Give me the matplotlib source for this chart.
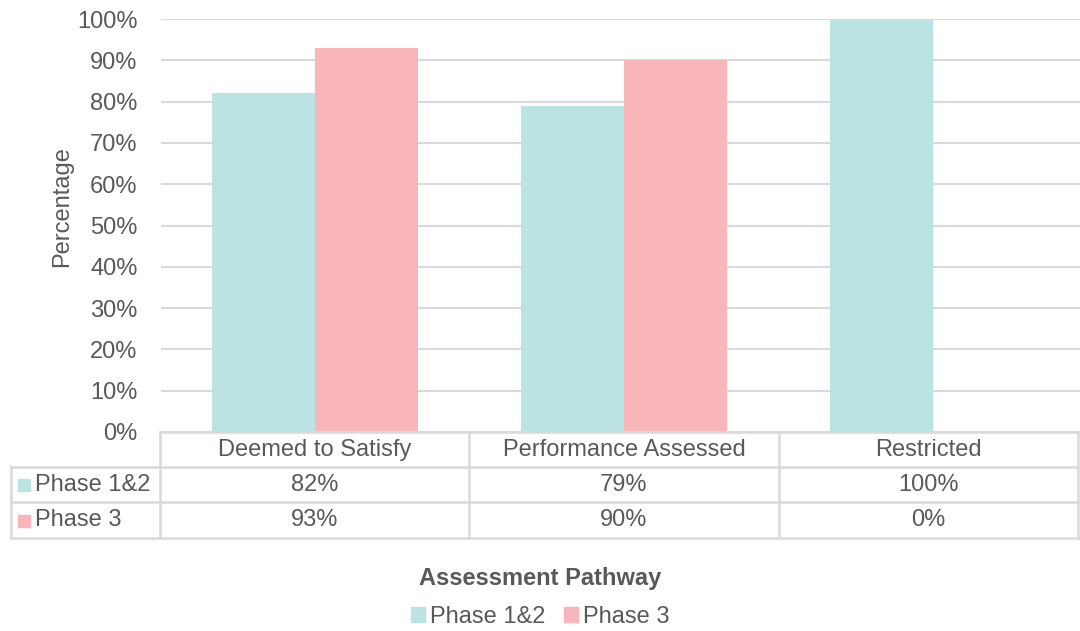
import numpy as np
import matplotlib
matplotlib.use('Agg')
import matplotlib.pyplot as plt
from matplotlib.lines import Line2D
from matplotlib.patches import Patch

plt.rcParams['font.family'] = ['Liberation Sans', 'DejaVu Sans']

categories = ['Deemed to Satisfy', 'Performance Assessed', 'Restricted']
series_names = ['Phase 1&2', 'Phase 3']
phase12 = [82, 79, 100]
phase3 = [93, 90, 0]
yticks = [0, 10, 20, 30, 40, 50, 60, 70, 80, 90, 100]

colors = ['#BBE3E3', '#F8B6BA']
text_col = '#595959'
grid_col = '#D9D9D9'
W, H = 1080, 631
fs = 17


def fx(px):
    return px / W


def fy(py):
    return 1 - py / H


fig = plt.figure(figsize=(W / 100, H / 100), dpi=100)
ax = fig.add_axes([fx(160.5), fy(432), fx(1087.5) - fx(160.5), fy(19) - fy(432)])

x = np.arange(len(categories))
bw = 1 / 3
ax.bar(x - bw / 2, phase12, bw, color=colors[0], zorder=2)
ax.bar(x + bw / 2, phase3, bw, color=colors[1], zorder=2)
ax.set_xlim(-0.5, len(categories) - 0.5)
ax.set_ylim(0, 100)
ax.set_yticks(yticks)
ax.set_yticklabels([f'{v}%' for v in yticks], fontsize=fs, color=text_col)
ax.set_xticks([])
ax.tick_params(axis='y', length=0, pad=16.5)
ax.grid(axis='y', color=grid_col, linewidth=1.5, zorder=0)
for s in ax.spines.values():
    s.set_visible(False)
fig.text(fx(62), fy(207), 'Percentage', rotation=90, ha='center', va='center',
         fontsize=fs, color=text_col)

# data table under the axis
col_x = [160, 469, 779, 1078]
row_y = [432, 467, 502, 538]
lw = 1.8
fig.add_artist(Line2D([fx(160), fx(1078)], [fy(432), fy(432)], color=grid_col, lw=lw))
for yy in row_y[1:]:
    fig.add_artist(Line2D([fx(11), fx(1078)], [fy(yy), fy(yy)], color=grid_col, lw=lw))
fig.add_artist(Line2D([fx(11), fx(11)], [fy(467), fy(538)], color=grid_col, lw=lw))
for xx in col_x:
    fig.add_artist(Line2D([fx(xx), fx(xx)], [fy(432), fy(538)], color=grid_col, lw=lw))

for i, cat in enumerate(categories):
    cx = (col_x[i] + col_x[i + 1]) / 2
    fig.text(fx(cx), fy(450), cat, ha='center', va='center', fontsize=fs, color=text_col)
    fig.text(fx(cx), fy(485), f'{phase12[i]}%', ha='center', va='center', fontsize=fs, color=text_col)
    fig.text(fx(cx), fy(520.5), f'{phase3[i]}%', ha='center', va='center', fontsize=fs, color=text_col)

for j, (name, c) in enumerate(zip(series_names, colors)):
    yy = fy(485 + 35.5 * j)
    fig.patches.append(plt.Rectangle((fx(18), yy - 6 / H), 12 / W, 12 / H,
                                     transform=fig.transFigure, color=c, figure=fig))
    fig.text(fx(35), yy, name, ha='left', va='center', fontsize=fs, color=text_col)

fig.text(0.5, fy(578), 'Assessment Pathway', ha='center', va='center',
         fontsize=fs, fontweight='bold', color=text_col)

handles = [Patch(color=c) for c in colors]
fig.legend(handles, series_names, loc='center', bbox_to_anchor=(0.5, fy(617)), ncol=2,
           frameon=False, fontsize=fs, labelcolor=text_col, handlelength=0.6,
           handleheight=0.6, handletextpad=0.2, columnspacing=0.8)

fig.savefig('out.png', dpi=100)
